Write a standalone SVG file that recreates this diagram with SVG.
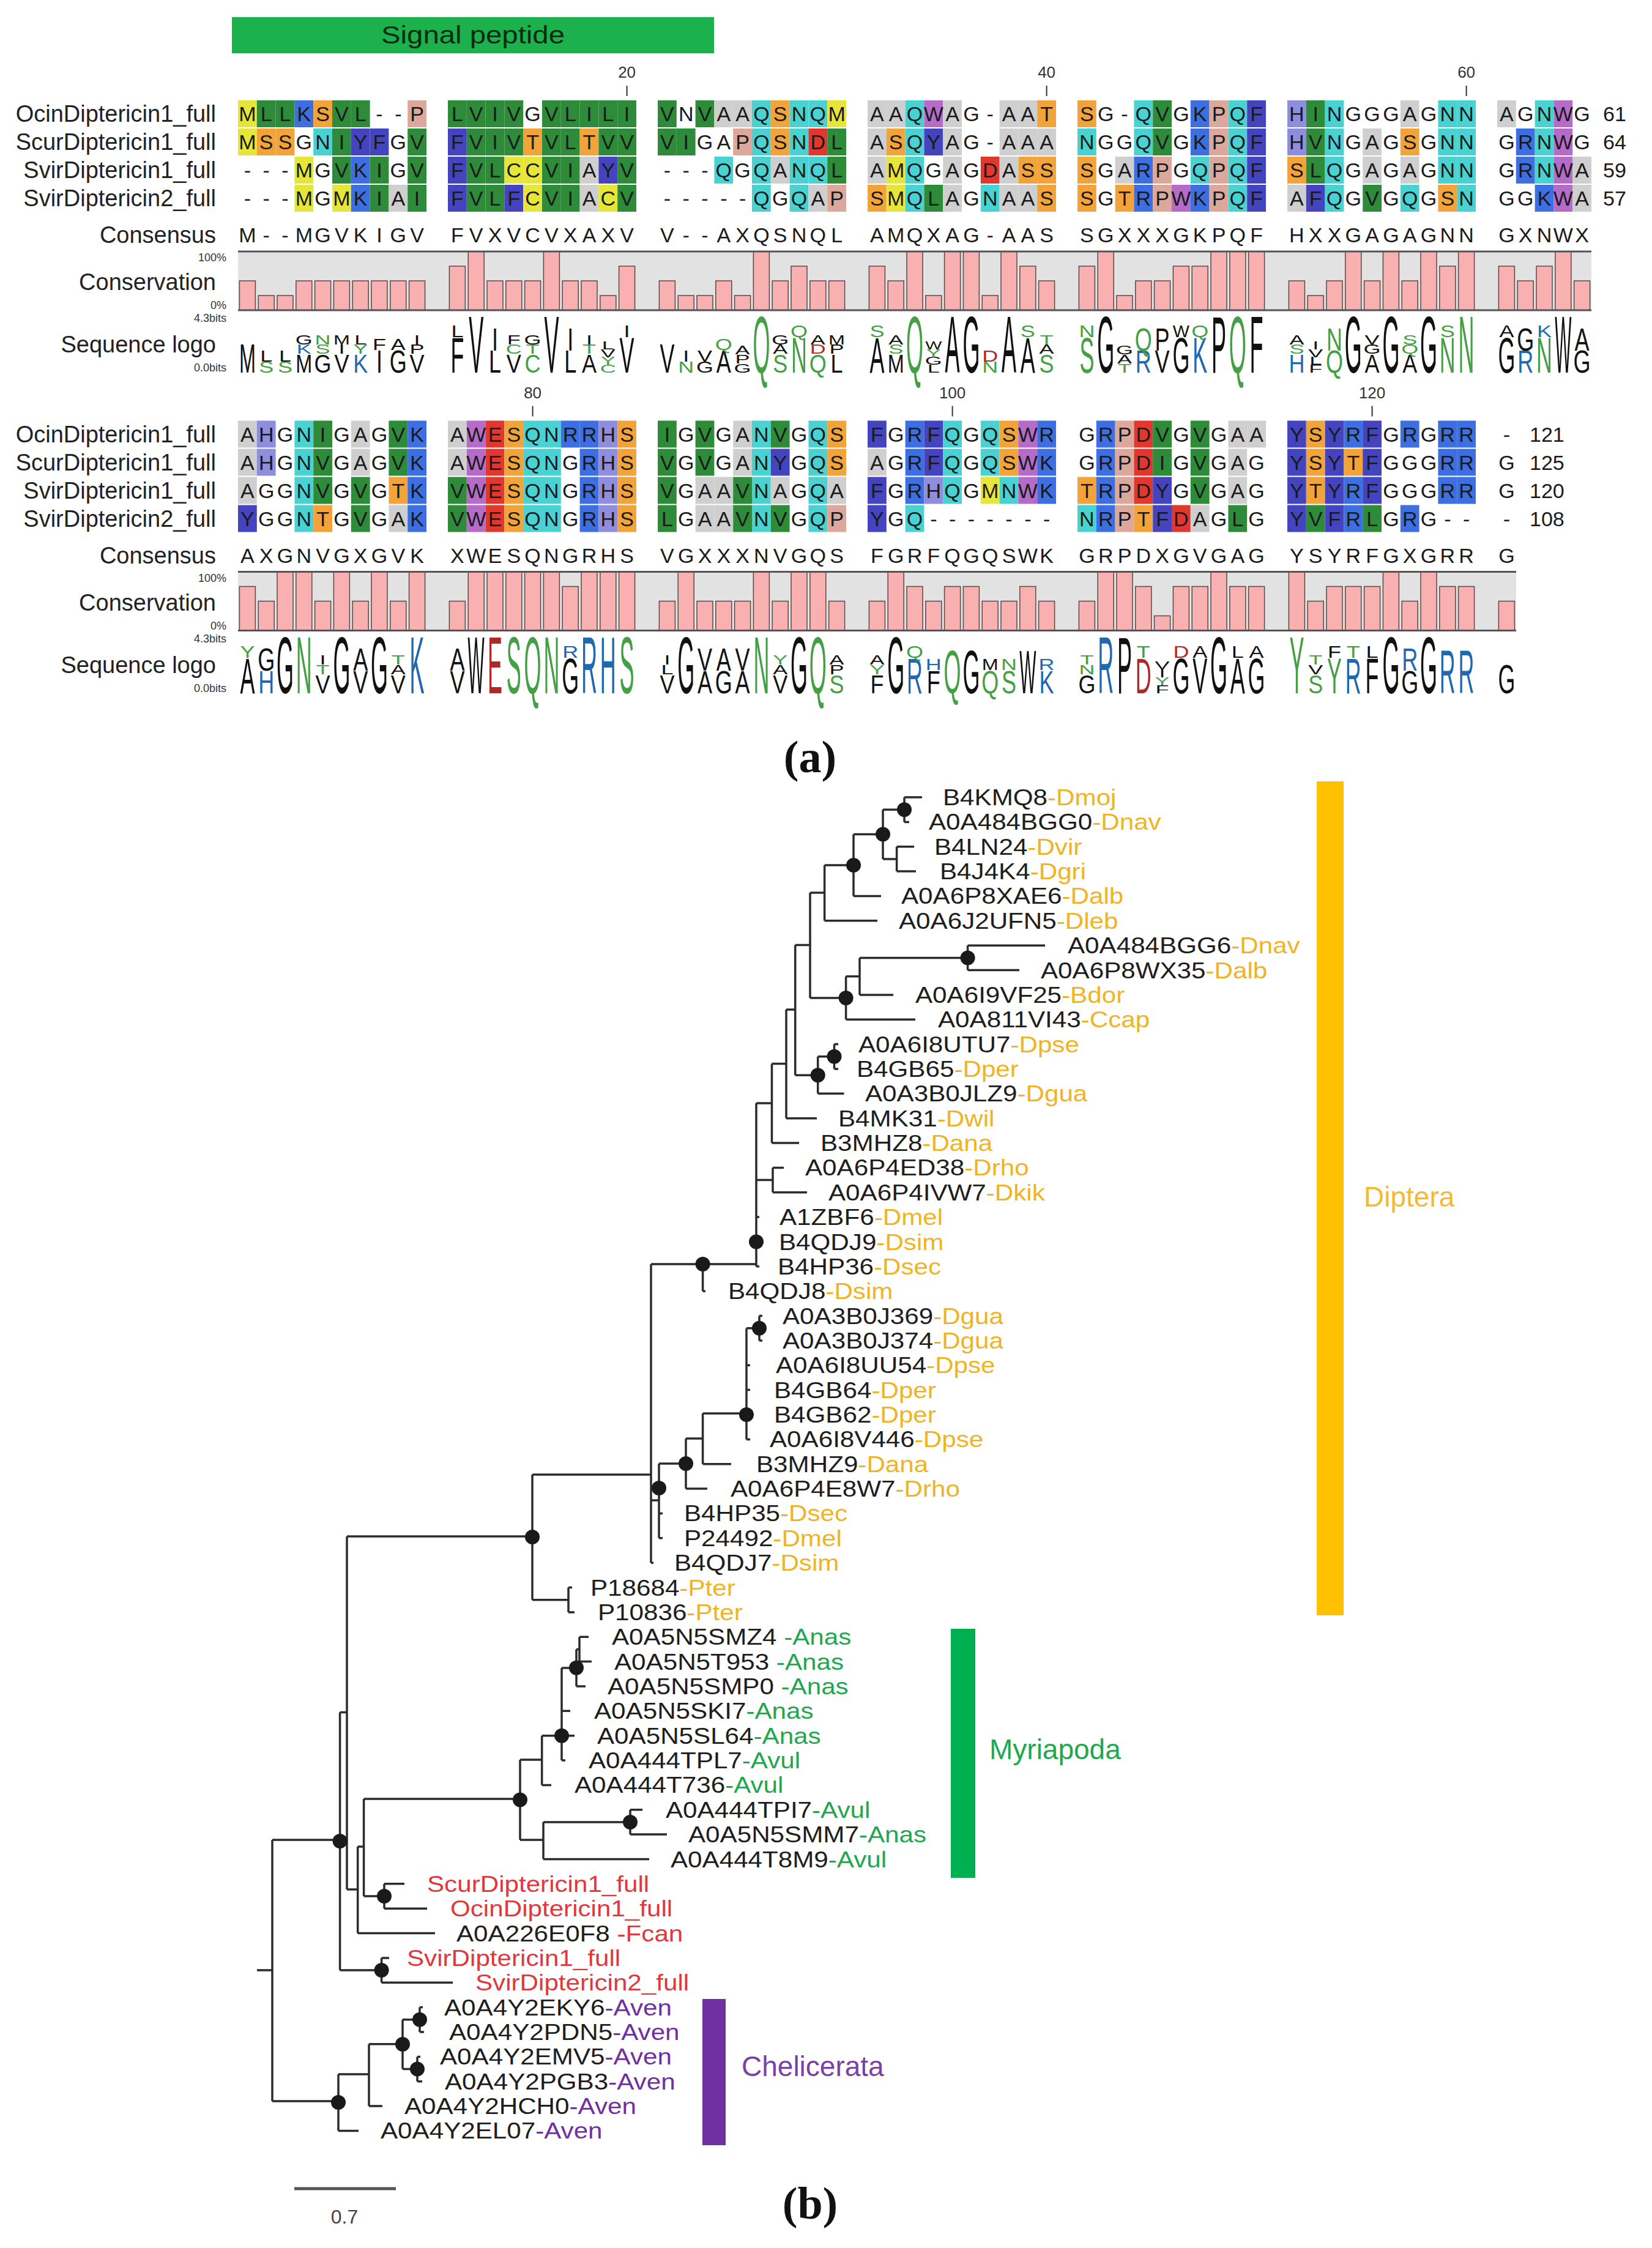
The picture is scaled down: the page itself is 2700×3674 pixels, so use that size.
<svg xmlns="http://www.w3.org/2000/svg" width="2700" height="3674" viewBox="0 0 2700 3674">
<style>
text{font-family:"Liberation Sans",Arial,sans-serif}
.nm{font-size:38px;fill:#222;text-anchor:end}
.rs{font-size:34px;fill:#1a1a1a;text-anchor:middle}
.sm{font-size:18px;fill:#333;text-anchor:end}
.ps{font-size:26px;fill:#333;text-anchor:middle}
.en{font-size:34px;fill:#1a1a1a}
.cl rect{width:30.8px;height:44px}
rect.g{fill:#2e8b3a}rect.y{fill:#e6e63a}rect.b{fill:#3d6fe0}rect.i{fill:#4444be}rect.o{fill:#f2a43a}rect.c{fill:#4ad2d2}rect.p{fill:#dca89c}rect.a{fill:#cfcfcf}rect.r{fill:#e0382f}rect.h{fill:#8e8edc}rect.w{fill:#b46cc8}
.bar rect{width:26px;fill:#f8b0b0;stroke:#5a4a4a;stroke-width:1.5}
.q4{y:411px;height:96px}.q3{y:435px;height:72px}.q2{y:459px;height:48px}.q1{y:483px;height:24px}
.lg text{font-size:36px;fill:#111;text-anchor:middle}
.lg .n{fill:#45a045}.lg .k{fill:#2069b0}.lg .e{fill:#b02828}
.tr{fill:none;stroke:#2b2b2b;stroke-width:3.5}
.dot{fill:#1a1a1a}
.lf{font-size:37px;fill:#1e1e1e}
.o{fill:#f0b323}.gn{fill:#1fa84f}.rd{fill:#e0383c}.pu{fill:#7030a0}
.pl{font-family:"Liberation Serif","Times New Roman",serif;font-weight:bold;font-size:74px;fill:#111;text-anchor:middle}
</style>
<rect width="2700" height="3674" fill="#fff"/>
<g id="panel-a">
<g id="signal-peptide"><rect x="379" y="28" width="788" height="59" fill="#1cb14c"/><text x="773" y="71" font-size="40" fill="#0d2b12" text-anchor="middle" textLength="300" lengthAdjust="spacingAndGlyphs">Signal peptide</text></g>
<g id="section1">
<g id="labels1">
<text class="nm" x="353" y="199">OcinDiptericin1_full</text><text class="nm" x="353" y="245">ScurDiptericin1_full</text><text class="nm" x="353" y="291">SvirDiptericin1_full</text><text class="nm" x="353" y="337">SvirDiptericin2_full</text><text class="nm" x="353" y="397">Consensus</text><text class="nm" x="353" y="474">Conservation</text><text class="nm" x="353" y="576">Sequence logo</text>
<text class="sm" x="370" y="427">100%</text><text class="sm" x="370" y="505">0%</text><text class="sm" x="370" y="526">4.3bits</text><text class="sm" x="370" y="607">0.0bits</text>
</g>
<g id="ruler1"><text class="ps" x="1024.6" y="127">20</text><text class="ps" x="1710.6" y="127">40</text><text class="ps" x="2396.6" y="127">60</text><path d="M1024.6 140V157M1710.6 140V157M2396.6 140V157" stroke="#333" stroke-width="2"/></g>
<rect x="389" y="411" width="2212" height="96" fill="#e2e2e2"/>
<g id="s1b1" transform="translate(389,0)">
<g class="cl"><rect class="y" y="164"/><rect class="g" x="30.8" y="164"/><rect class="g" x="61.6" y="164"/><rect class="b" x="92.4" y="164"/><rect class="o" x="123.2" y="164"/><rect class="g" x="154" y="164"/><rect class="g" x="184.8" y="164"/><rect class="p" x="277.2" y="164"/>
<rect class="y" y="210"/><rect class="o" x="30.8" y="210"/><rect class="o" x="61.6" y="210"/><rect class="c" x="123.2" y="210"/><rect class="g" x="154" y="210"/><rect class="i" x="184.8" y="210"/><rect class="i" x="215.6" y="210"/><rect class="g" x="277.2" y="210"/>
<rect class="y" x="92.4" y="256"/><rect class="g" x="154" y="256"/><rect class="b" x="184.8" y="256"/><rect class="g" x="215.6" y="256"/><rect class="g" x="277.2" y="256"/>
<rect class="y" x="92.4" y="302"/><rect class="y" x="154" y="302"/><rect class="b" x="184.8" y="302"/><rect class="g" x="215.6" y="302"/><rect class="a" x="246.4" y="302"/><rect class="g" x="277.2" y="302"/></g>
<text class="rs" x="15.4 46.2 77 107.8 138.6 169.4 200.2 231 261.8 292.6" y="198">MLLKSVL--P</text><text class="rs" x="15.4 46.2 77 107.8 138.6 169.4 200.2 231 261.8 292.6" y="244">MSSGNIYFGV</text><text class="rs" x="15.4 46.2 77 107.8 138.6 169.4 200.2 231 261.8 292.6" y="290">---MGVKIGV</text><text class="rs" x="15.4 46.2 77 107.8 138.6 169.4 200.2 231 261.8 292.6" y="336">---MGMKIAI</text><text class="rs" x="15.4 46.2 77 107.8 138.6 169.4 200.2 231 261.8 292.6" y="396">M--MGVKIGV</text>
<g class="bar"><rect class="q2" x="2.4"/><rect class="q1" x="33.2"/><rect class="q1" x="64"/><rect class="q2" x="94.8"/><rect class="q2" x="125.6"/><rect class="q2" x="156.4"/><rect class="q2" x="187.2"/><rect class="q2" x="218"/><rect class="q2" x="248.8"/><rect class="q2" x="279.6"/></g>
<g class="lg"><text transform="matrix(.9 0 0 1.841 15.4 609)">M</text><text class="n" transform="matrix(1 0 0 .707 46.2 609)">S</text><text transform="matrix(1 0 0 .707 46.2 590.75)">L</text><text class="n" transform="matrix(1 0 0 .707 77 609)">S</text><text transform="matrix(1 0 0 .707 77 590.75)">L</text><text transform="matrix(.9 0 0 1.202 107.8 609)">M</text><text class="k" transform="matrix(1 0 0 .601 107.8 578)">K</text><text transform="matrix(1 0 0 .601 107.8 562.5)">G</text><text transform="matrix(1 0 0 1.202 138.6 609)">G</text><text class="n" transform="matrix(1 0 0 .601 138.6 578)">S</text><text class="n" transform="matrix(1 0 0 .601 138.6 562.5)">N</text><text transform="matrix(1 0 0 1.202 169.4 609)">V</text><text transform="matrix(1 0 0 .601 169.4 578)">I</text><text transform="matrix(.9 0 0 .601 169.4 562.5)">M</text><text class="k" transform="matrix(1 0 0 1.202 200.2 609)">K</text><text class="n" transform="matrix(1 0 0 .601 200.2 578)">Y</text><text transform="matrix(1 0 0 .601 200.2 562.5)">L</text><text transform="matrix(1 0 0 1.45 231 609)">I</text><text transform="matrix(1 0 0 .725 231 571.6)">F</text><text transform="matrix(1 0 0 1.45 261.8 609)">G</text><text transform="matrix(1 0 0 .725 261.8 571.6)">A</text><text transform="matrix(1 0 0 1.202 292.6 609)">V</text><text transform="matrix(1 0 0 .601 292.6 578)">P</text><text transform="matrix(1 0 0 .601 292.6 562.5)">I</text></g>
</g>
<g id="s1b2" transform="translate(732,0)">
<g class="cl"><rect class="g" y="164"/><rect class="g" x="30.8" y="164"/><rect class="g" x="61.6" y="164"/><rect class="g" x="92.4" y="164"/><rect class="g" x="154" y="164"/><rect class="g" x="184.8" y="164"/><rect class="g" x="215.6" y="164"/><rect class="g" x="246.4" y="164"/><rect class="g" x="277.2" y="164"/>
<rect class="i" y="210"/><rect class="g" x="30.8" y="210"/><rect class="g" x="61.6" y="210"/><rect class="g" x="92.4" y="210"/><rect class="o" x="123.2" y="210"/><rect class="g" x="154" y="210"/><rect class="g" x="184.8" y="210"/><rect class="o" x="215.6" y="210"/><rect class="g" x="246.4" y="210"/><rect class="g" x="277.2" y="210"/>
<rect class="i" y="256"/><rect class="g" x="30.8" y="256"/><rect class="g" x="61.6" y="256"/><rect class="y" x="92.4" y="256"/><rect class="y" x="123.2" y="256"/><rect class="g" x="154" y="256"/><rect class="g" x="184.8" y="256"/><rect class="a" x="215.6" y="256"/><rect class="i" x="246.4" y="256"/><rect class="g" x="277.2" y="256"/>
<rect class="i" y="302"/><rect class="g" x="30.8" y="302"/><rect class="g" x="61.6" y="302"/><rect class="i" x="92.4" y="302"/><rect class="y" x="123.2" y="302"/><rect class="g" x="154" y="302"/><rect class="g" x="184.8" y="302"/><rect class="a" x="215.6" y="302"/><rect class="y" x="246.4" y="302"/><rect class="g" x="277.2" y="302"/></g>
<text class="rs" x="15.4 46.2 77 107.8 138.6 169.4 200.2 231 261.8 292.6" y="198">LVIVGVLILI</text><text class="rs" x="15.4 46.2 77 107.8 138.6 169.4 200.2 231 261.8 292.6" y="244">FVIVTVLTVV</text><text class="rs" x="15.4 46.2 77 107.8 138.6 169.4 200.2 231 261.8 292.6" y="290">FVLCCVIAYV</text><text class="rs" x="15.4 46.2 77 107.8 138.6 169.4 200.2 231 261.8 292.6" y="336">FVLFCVIACV</text><text class="rs" x="15.4 46.2 77 107.8 138.6 169.4 200.2 231 261.8 292.6" y="396">FVXVCVXAXV</text>
<g class="bar"><rect class="q3" x="2.4"/><rect class="q4" x="33.2"/><rect class="q2" x="64"/><rect class="q2" x="94.8"/><rect class="q2" x="125.6"/><rect class="q4" x="156.4"/><rect class="q2" x="187.2"/><rect class="q2" x="218"/><rect class="q1" x="248.8"/><rect class="q3" x="279.6"/></g>
<g class="lg"><text transform="matrix(1 0 0 2.244 15.4 609)">F</text><text transform="matrix(1 0 0 .748 15.4 551.1)">L</text><text transform="matrix(1 0 0 3.682 46.2 609)">V</text><text transform="matrix(1 0 0 1.415 77 609)">L</text><text transform="matrix(1 0 0 1.415 77 572.5)">I</text><text transform="matrix(1 0 0 1.202 107.8 609)">V</text><text class="n" transform="matrix(1 0 0 .601 107.8 578)">C</text><text transform="matrix(1 0 0 .601 107.8 562.5)">F</text><text class="n" transform="matrix(1 0 0 1.202 138.6 609)">C</text><text class="n" transform="matrix(1 0 0 .601 138.6 578)">T</text><text transform="matrix(1 0 0 .601 138.6 562.5)">G</text><text transform="matrix(1 0 0 3.682 169.4 609)">V</text><text transform="matrix(1 0 0 1.415 200.2 609)">L</text><text transform="matrix(1 0 0 1.415 200.2 572.5)">I</text><text transform="matrix(1 0 0 1.202 231 609)">A</text><text class="n" transform="matrix(1 0 0 .601 231 578)">T</text><text transform="matrix(1 0 0 .601 231 562.5)">I</text><text class="n" transform="matrix(1 0 0 .494 261.8 609)">C</text><text class="n" transform="matrix(1 0 0 .494 261.8 596.25)">Y</text><text transform="matrix(1 0 0 .494 261.8 583.5)">V</text><text transform="matrix(1 0 0 .494 261.8 570.75)">L</text><text transform="matrix(1 0 0 2.244 292.6 609)">V</text><text transform="matrix(1 0 0 .748 292.6 551.1)">I</text></g>
</g>
<g id="s1b3" transform="translate(1075,0)">
<g class="cl"><rect class="g" y="164"/><rect class="g" x="61.6" y="164"/><rect class="a" x="92.4" y="164"/><rect class="a" x="123.2" y="164"/><rect class="c" x="154" y="164"/><rect class="o" x="184.8" y="164"/><rect class="c" x="215.6" y="164"/><rect class="c" x="246.4" y="164"/><rect class="y" x="277.2" y="164"/>
<rect class="g" y="210"/><rect class="g" x="30.8" y="210"/><rect class="p" x="123.2" y="210"/><rect class="c" x="154" y="210"/><rect class="o" x="184.8" y="210"/><rect class="c" x="215.6" y="210"/><rect class="r" x="246.4" y="210"/><rect class="g" x="277.2" y="210"/>
<rect class="c" x="92.4" y="256"/><rect class="c" x="154" y="256"/><rect class="a" x="184.8" y="256"/><rect class="c" x="215.6" y="256"/><rect class="c" x="246.4" y="256"/><rect class="g" x="277.2" y="256"/>
<rect class="c" x="154" y="302"/><rect class="c" x="215.6" y="302"/><rect class="a" x="246.4" y="302"/><rect class="p" x="277.2" y="302"/></g>
<text class="rs" x="15.4 46.2 77 107.8 138.6 169.4 200.2 231 261.8 292.6" y="198">VNVAAQSNQM</text><text class="rs" x="15.4 46.2 77 107.8 138.6 169.4 200.2 231 261.8 292.6" y="244">VIGAPQSNDL</text><text class="rs" x="15.4 46.2 77 107.8 138.6 169.4 200.2 231 261.8 292.6" y="290">---QGQANQL</text><text class="rs" x="15.4 46.2 77 107.8 138.6 169.4 200.2 231 261.8 292.6" y="336">-----QGQAP</text><text class="rs" x="15.4 46.2 77 107.8 138.6 169.4 200.2 231 261.8 292.6" y="396">V--AXQSNQL</text>
<g class="bar"><rect class="q2" x="2.4"/><rect class="q1" x="33.2"/><rect class="q1" x="64"/><rect class="q2" x="94.8"/><rect class="q1" x="125.6"/><rect class="q4" x="156.4"/><rect class="q2" x="187.2"/><rect class="q3" x="218"/><rect class="q2" x="248.8"/><rect class="q2" x="279.6"/></g>
<g class="lg"><text transform="matrix(1 0 0 1.841 15.4 609)">V</text><text class="n" transform="matrix(1 0 0 .707 46.2 609)">N</text><text transform="matrix(1 0 0 .707 46.2 590.75)">I</text><text transform="matrix(1 0 0 .707 77 609)">G</text><text transform="matrix(1 0 0 .707 77 590.75)">V</text><text transform="matrix(1 0 0 1.45 107.8 609)">A</text><text class="n" transform="matrix(1 0 0 .725 107.8 571.6)">Q</text><text transform="matrix(1 0 0 .583 138.6 609)">G</text><text transform="matrix(1 0 0 .583 138.6 594)">P</text><text transform="matrix(1 0 0 .583 138.6 579)">A</text><text class="n" transform="matrix(1 0 0 3.682 169.4 609)">Q</text><text class="n" transform="matrix(1 0 0 1.202 200.2 609)">S</text><text transform="matrix(1 0 0 .601 200.2 578)">A</text><text transform="matrix(1 0 0 .601 200.2 562.5)">G</text><text class="n" transform="matrix(1 0 0 2.244 231 609)">N</text><text class="n" transform="matrix(1 0 0 .748 231 551.1)">Q</text><text class="n" transform="matrix(1 0 0 1.202 261.8 609)">Q</text><text class="e" transform="matrix(1 0 0 .601 261.8 578)">D</text><text transform="matrix(1 0 0 .601 261.8 562.5)">A</text><text transform="matrix(1 0 0 1.202 292.6 609)">L</text><text transform="matrix(1 0 0 .601 292.6 578)">P</text><text transform="matrix(.9 0 0 .601 292.6 562.5)">M</text></g>
</g>
<g id="s1b4" transform="translate(1418,0)">
<g class="cl"><rect class="a" y="164"/><rect class="a" x="30.8" y="164"/><rect class="c" x="61.6" y="164"/><rect class="w" x="92.4" y="164"/><rect class="a" x="123.2" y="164"/><rect class="a" x="215.6" y="164"/><rect class="a" x="246.4" y="164"/><rect class="o" x="277.2" y="164"/>
<rect class="a" y="210"/><rect class="o" x="30.8" y="210"/><rect class="c" x="61.6" y="210"/><rect class="i" x="92.4" y="210"/><rect class="a" x="123.2" y="210"/><rect class="a" x="215.6" y="210"/><rect class="a" x="246.4" y="210"/><rect class="a" x="277.2" y="210"/>
<rect class="a" y="256"/><rect class="y" x="30.8" y="256"/><rect class="c" x="61.6" y="256"/><rect class="a" x="123.2" y="256"/><rect class="r" x="184.8" y="256"/><rect class="a" x="215.6" y="256"/><rect class="o" x="246.4" y="256"/><rect class="o" x="277.2" y="256"/>
<rect class="o" y="302"/><rect class="y" x="30.8" y="302"/><rect class="c" x="61.6" y="302"/><rect class="g" x="92.4" y="302"/><rect class="a" x="123.2" y="302"/><rect class="c" x="184.8" y="302"/><rect class="a" x="215.6" y="302"/><rect class="a" x="246.4" y="302"/><rect class="o" x="277.2" y="302"/></g>
<text class="rs" x="15.4 46.2 77 107.8 138.6 169.4 200.2 231 261.8 292.6" y="198">AAQWAG-AAT</text><text class="rs" x="15.4 46.2 77 107.8 138.6 169.4 200.2 231 261.8 292.6" y="244">ASQYAG-AAA</text><text class="rs" x="15.4 46.2 77 107.8 138.6 169.4 200.2 231 261.8 292.6" y="290">AMQGAGDASS</text><text class="rs" x="15.4 46.2 77 107.8 138.6 169.4 200.2 231 261.8 292.6" y="336">SMQLAGNAAS</text><text class="rs" x="15.4 46.2 77 107.8 138.6 169.4 200.2 231 261.8 292.6" y="396">AMQXAG-AAS</text>
<g class="bar"><rect class="q3" x="2.4"/><rect class="q2" x="33.2"/><rect class="q4" x="64"/><rect class="q1" x="94.8"/><rect class="q4" x="125.6"/><rect class="q4" x="156.4"/><rect class="q1" x="187.2"/><rect class="q4" x="218"/><rect class="q3" x="248.8"/><rect class="q2" x="279.6"/></g>
<g class="lg"><text transform="matrix(1 0 0 2.244 15.4 609)">A</text><text class="n" transform="matrix(1 0 0 .748 15.4 551.1)">S</text><text transform="matrix(.9 0 0 1.202 46.2 609)">M</text><text class="n" transform="matrix(1 0 0 .601 46.2 578)">S</text><text transform="matrix(1 0 0 .601 46.2 562.5)">A</text><text class="n" transform="matrix(1 0 0 3.682 77 609)">Q</text><text transform="matrix(1 0 0 .494 107.8 609)">L</text><text transform="matrix(1 0 0 .494 107.8 596.25)">G</text><text class="n" transform="matrix(1 0 0 .494 107.8 583.5)">Y</text><text transform="matrix(.8 0 0 .494 107.8 570.75)">W</text><text transform="matrix(1 0 0 3.682 138.6 609)">A</text><text transform="matrix(1 0 0 3.682 169.4 609)">G</text><text class="n" transform="matrix(1 0 0 .707 200.2 609)">N</text><text class="e" transform="matrix(1 0 0 .707 200.2 590.75)">D</text><text transform="matrix(1 0 0 3.682 231 609)">A</text><text transform="matrix(1 0 0 2.244 261.8 609)">A</text><text class="n" transform="matrix(1 0 0 .748 261.8 551.1)">S</text><text class="n" transform="matrix(1 0 0 1.202 292.6 609)">S</text><text transform="matrix(1 0 0 .601 292.6 578)">A</text><text class="n" transform="matrix(1 0 0 .601 292.6 562.5)">T</text></g>
</g>
<g id="s1b5" transform="translate(1761,0)">
<g class="cl"><rect class="o" y="164"/><rect class="c" x="92.4" y="164"/><rect class="g" x="123.2" y="164"/><rect class="b" x="184.8" y="164"/><rect class="p" x="215.6" y="164"/><rect class="c" x="246.4" y="164"/><rect class="i" x="277.2" y="164"/>
<rect class="c" y="210"/><rect class="c" x="92.4" y="210"/><rect class="g" x="123.2" y="210"/><rect class="b" x="184.8" y="210"/><rect class="p" x="215.6" y="210"/><rect class="c" x="246.4" y="210"/><rect class="i" x="277.2" y="210"/>
<rect class="o" y="256"/><rect class="a" x="61.6" y="256"/><rect class="b" x="92.4" y="256"/><rect class="p" x="123.2" y="256"/><rect class="c" x="184.8" y="256"/><rect class="p" x="215.6" y="256"/><rect class="c" x="246.4" y="256"/><rect class="i" x="277.2" y="256"/>
<rect class="o" y="302"/><rect class="o" x="61.6" y="302"/><rect class="b" x="92.4" y="302"/><rect class="p" x="123.2" y="302"/><rect class="w" x="154" y="302"/><rect class="b" x="184.8" y="302"/><rect class="p" x="215.6" y="302"/><rect class="c" x="246.4" y="302"/><rect class="i" x="277.2" y="302"/></g>
<text class="rs" x="15.4 46.2 77 107.8 138.6 169.4 200.2 231 261.8 292.6" y="198">SG-QVGKPQF</text><text class="rs" x="15.4 46.2 77 107.8 138.6 169.4 200.2 231 261.8 292.6" y="244">NGGQVGKPQF</text><text class="rs" x="15.4 46.2 77 107.8 138.6 169.4 200.2 231 261.8 292.6" y="290">SGARPGQPQF</text><text class="rs" x="15.4 46.2 77 107.8 138.6 169.4 200.2 231 261.8 292.6" y="336">SGTRPWKPQF</text><text class="rs" x="15.4 46.2 77 107.8 138.6 169.4 200.2 231 261.8 292.6" y="396">SGXXXGKPQF</text>
<g class="bar"><rect class="q3" x="2.4"/><rect class="q4" x="33.2"/><rect class="q1" x="64"/><rect class="q2" x="94.8"/><rect class="q2" x="125.6"/><rect class="q3" x="156.4"/><rect class="q3" x="187.2"/><rect class="q4" x="218"/><rect class="q4" x="248.8"/><rect class="q4" x="279.6"/></g>
<g class="lg"><text class="n" transform="matrix(1 0 0 2.244 15.4 609)">S</text><text class="n" transform="matrix(1 0 0 .748 15.4 551.1)">N</text><text transform="matrix(1 0 0 3.682 46.2 609)">G</text><text class="n" transform="matrix(1 0 0 .583 77 609)">T</text><text transform="matrix(1 0 0 .583 77 594)">A</text><text transform="matrix(1 0 0 .583 77 579)">G</text><text class="k" transform="matrix(1 0 0 1.415 107.8 609)">R</text><text class="n" transform="matrix(1 0 0 1.415 107.8 572.5)">Q</text><text transform="matrix(1 0 0 1.415 138.6 609)">V</text><text transform="matrix(1 0 0 1.415 138.6 572.5)">P</text><text transform="matrix(1 0 0 2.244 169.4 609)">G</text><text transform="matrix(.8 0 0 .748 169.4 551.1)">W</text><text class="k" transform="matrix(1 0 0 2.244 200.2 609)">K</text><text class="n" transform="matrix(1 0 0 .748 200.2 551.1)">Q</text><text transform="matrix(1 0 0 3.682 231 609)">P</text><text class="n" transform="matrix(1 0 0 3.682 261.8 609)">Q</text><text transform="matrix(1 0 0 3.682 292.6 609)">F</text></g>
</g>
<g id="s1b6" transform="translate(2104,0)">
<g class="cl"><rect class="h" y="164"/><rect class="g" x="30.8" y="164"/><rect class="c" x="61.6" y="164"/><rect class="a" x="184.8" y="164"/><rect class="c" x="246.4" y="164"/><rect class="c" x="277.2" y="164"/>
<rect class="h" y="210"/><rect class="g" x="30.8" y="210"/><rect class="c" x="61.6" y="210"/><rect class="a" x="123.2" y="210"/><rect class="o" x="184.8" y="210"/><rect class="c" x="246.4" y="210"/><rect class="c" x="277.2" y="210"/>
<rect class="o" y="256"/><rect class="g" x="30.8" y="256"/><rect class="c" x="61.6" y="256"/><rect class="a" x="123.2" y="256"/><rect class="a" x="184.8" y="256"/><rect class="c" x="246.4" y="256"/><rect class="c" x="277.2" y="256"/>
<rect class="a" y="302"/><rect class="i" x="30.8" y="302"/><rect class="c" x="61.6" y="302"/><rect class="g" x="123.2" y="302"/><rect class="c" x="184.8" y="302"/><rect class="o" x="246.4" y="302"/><rect class="c" x="277.2" y="302"/></g>
<text class="rs" x="15.4 46.2 77 107.8 138.6 169.4 200.2 231 261.8 292.6" y="198">HINGGGAGNN</text><text class="rs" x="15.4 46.2 77 107.8 138.6 169.4 200.2 231 261.8 292.6" y="244">HVNGAGSGNN</text><text class="rs" x="15.4 46.2 77 107.8 138.6 169.4 200.2 231 261.8 292.6" y="290">SLQGAGAGNN</text><text class="rs" x="15.4 46.2 77 107.8 138.6 169.4 200.2 231 261.8 292.6" y="336">AFQGVGQGSN</text><text class="rs" x="15.4 46.2 77 107.8 138.6 169.4 200.2 231 261.8 292.6" y="396">HXXGAGAGNN</text>
<g class="bar"><rect class="q2" x="2.4"/><rect class="q1" x="33.2"/><rect class="q2" x="64"/><rect class="q4" x="94.8"/><rect class="q2" x="125.6"/><rect class="q4" x="156.4"/><rect class="q2" x="187.2"/><rect class="q4" x="218"/><rect class="q3" x="248.8"/><rect class="q4" x="279.6"/></g>
<g class="lg"><text class="k" transform="matrix(1 0 0 1.202 15.4 609)">H</text><text class="n" transform="matrix(1 0 0 .601 15.4 578)">S</text><text transform="matrix(1 0 0 .601 15.4 562.5)">A</text><text transform="matrix(1 0 0 .494 46.2 609)">F</text><text transform="matrix(1 0 0 .494 46.2 596.25)">L</text><text transform="matrix(1 0 0 .494 46.2 583.5)">V</text><text transform="matrix(1 0 0 .494 46.2 570.75)">I</text><text class="n" transform="matrix(1 0 0 1.415 77 609)">Q</text><text class="n" transform="matrix(1 0 0 1.415 77 572.5)">N</text><text transform="matrix(1 0 0 3.682 107.8 609)">G</text><text transform="matrix(1 0 0 1.202 138.6 609)">A</text><text transform="matrix(1 0 0 .601 138.6 578)">G</text><text transform="matrix(1 0 0 .601 138.6 562.5)">V</text><text transform="matrix(1 0 0 3.682 169.4 609)">G</text><text transform="matrix(1 0 0 1.202 200.2 609)">A</text><text class="n" transform="matrix(1 0 0 .601 200.2 578)">Q</text><text class="n" transform="matrix(1 0 0 .601 200.2 562.5)">S</text><text transform="matrix(1 0 0 3.682 231 609)">G</text><text class="n" transform="matrix(1 0 0 2.244 261.8 609)">N</text><text class="n" transform="matrix(1 0 0 .748 261.8 551.1)">S</text><text class="n" transform="matrix(1 0 0 3.682 292.6 609)">N</text></g>
</g>
<g id="s1b7" transform="translate(2447,0)">
<g class="cl"><rect class="a" y="164"/><rect class="c" x="61.6" y="164"/><rect class="w" x="92.4" y="164"/>
<rect class="b" x="30.8" y="210"/><rect class="c" x="61.6" y="210"/><rect class="w" x="92.4" y="210"/>
<rect class="b" x="30.8" y="256"/><rect class="c" x="61.6" y="256"/><rect class="w" x="92.4" y="256"/><rect class="a" x="123.2" y="256"/>
<rect class="b" x="61.6" y="302"/><rect class="w" x="92.4" y="302"/><rect class="a" x="123.2" y="302"/></g>
<text class="rs" x="15.4 46.2 77 107.8 138.6" y="198">AGNWG</text><text class="rs" x="15.4 46.2 77 107.8 138.6" y="244">GRNWG</text><text class="rs" x="15.4 46.2 77 107.8 138.6" y="290">GRNWA</text><text class="rs" x="15.4 46.2 77 107.8 138.6" y="336">GGKWA</text><text class="rs" x="15.4 46.2 77 107.8 138.6" y="396">GXNWX</text>
<g class="bar"><rect class="q3" x="2.4"/><rect class="q2" x="33.2"/><rect class="q3" x="64"/><rect class="q4" x="94.8"/><rect class="q2" x="125.6"/></g>
<g class="lg"><text transform="matrix(1 0 0 2.244 15.4 609)">G</text><text transform="matrix(1 0 0 .748 15.4 551.1)">A</text><text class="k" transform="matrix(1 0 0 1.415 46.2 609)">R</text><text transform="matrix(1 0 0 1.415 46.2 572.5)">G</text><text class="n" transform="matrix(1 0 0 2.244 77 609)">N</text><text class="k" transform="matrix(1 0 0 .748 77 551.1)">K</text><text transform="matrix(.8 0 0 3.682 107.8 609)">W</text><text transform="matrix(1 0 0 1.415 138.6 609)">G</text><text transform="matrix(1 0 0 1.415 138.6 572.5)">A</text></g>
<text class="en" x="173" y="198">61</text><text class="en" x="173" y="244">64</text><text class="en" x="173" y="290">59</text><text class="en" x="173" y="336">57</text>
</g>
<path d="M389 411H2601M389 507H2601" stroke="#555" stroke-width="3"/>
</g>
<g id="section2" transform="translate(0,523.5)">
<g id="labels2">
<text class="nm" x="353" y="199">OcinDiptericin1_full</text><text class="nm" x="353" y="245">ScurDiptericin1_full</text><text class="nm" x="353" y="291">SvirDiptericin1_full</text><text class="nm" x="353" y="337">SvirDiptericin2_full</text><text class="nm" x="353" y="397">Consensus</text><text class="nm" x="353" y="474">Conservation</text><text class="nm" x="353" y="576">Sequence logo</text>
<text class="sm" x="370" y="427">100%</text><text class="sm" x="370" y="505">0%</text><text class="sm" x="370" y="526">4.3bits</text><text class="sm" x="370" y="607">0.0bits</text>
</g>
<g id="ruler2"><text class="ps" x="870.6" y="127">80</text><text class="ps" x="1556.6" y="127">100</text><text class="ps" x="2242.6" y="127">120</text><path d="M870.6 140V157M1556.6 140V157M2242.6 140V157" stroke="#333" stroke-width="2"/></g>
<rect x="389" y="411" width="2089" height="96" fill="#e2e2e2"/>
<g id="s2b1" transform="translate(389,0)">
<g class="cl"><rect class="a" y="164"/><rect class="h" x="30.8" y="164"/><rect class="c" x="92.4" y="164"/><rect class="g" x="123.2" y="164"/><rect class="a" x="184.8" y="164"/><rect class="g" x="246.4" y="164"/><rect class="b" x="277.2" y="164"/>
<rect class="a" y="210"/><rect class="h" x="30.8" y="210"/><rect class="c" x="92.4" y="210"/><rect class="g" x="123.2" y="210"/><rect class="a" x="184.8" y="210"/><rect class="g" x="246.4" y="210"/><rect class="b" x="277.2" y="210"/>
<rect class="a" y="256"/><rect class="c" x="92.4" y="256"/><rect class="g" x="123.2" y="256"/><rect class="g" x="184.8" y="256"/><rect class="o" x="246.4" y="256"/><rect class="b" x="277.2" y="256"/>
<rect class="i" y="302"/><rect class="c" x="92.4" y="302"/><rect class="o" x="123.2" y="302"/><rect class="g" x="184.8" y="302"/><rect class="a" x="246.4" y="302"/><rect class="b" x="277.2" y="302"/></g>
<text class="rs" x="15.4 46.2 77 107.8 138.6 169.4 200.2 231 261.8 292.6" y="198">AHGNIGAGVK</text><text class="rs" x="15.4 46.2 77 107.8 138.6 169.4 200.2 231 261.8 292.6" y="244">AHGNVGAGVK</text><text class="rs" x="15.4 46.2 77 107.8 138.6 169.4 200.2 231 261.8 292.6" y="290">AGGNVGVGTK</text><text class="rs" x="15.4 46.2 77 107.8 138.6 169.4 200.2 231 261.8 292.6" y="336">YGGNTGVGAK</text><text class="rs" x="15.4 46.2 77 107.8 138.6 169.4 200.2 231 261.8 292.6" y="396">AXGNVGXGVK</text>
<g class="bar"><rect class="q3" x="2.4"/><rect class="q2" x="33.2"/><rect class="q4" x="64"/><rect class="q4" x="94.8"/><rect class="q2" x="125.6"/><rect class="q4" x="156.4"/><rect class="q2" x="187.2"/><rect class="q4" x="218"/><rect class="q2" x="248.8"/><rect class="q4" x="279.6"/></g>
<g class="lg"><text transform="matrix(1 0 0 2.244 15.4 609)">A</text><text class="n" transform="matrix(1 0 0 .748 15.4 551.1)">Y</text><text class="k" transform="matrix(1 0 0 1.415 46.2 609)">H</text><text transform="matrix(1 0 0 1.415 46.2 572.5)">G</text><text transform="matrix(1 0 0 3.682 77 609)">G</text><text class="n" transform="matrix(1 0 0 3.682 107.8 609)">N</text><text transform="matrix(1 0 0 1.202 138.6 609)">V</text><text class="n" transform="matrix(1 0 0 .601 138.6 578)">T</text><text transform="matrix(1 0 0 .601 138.6 562.5)">I</text><text transform="matrix(1 0 0 3.682 169.4 609)">G</text><text transform="matrix(1 0 0 1.415 200.2 609)">V</text><text transform="matrix(1 0 0 1.415 200.2 572.5)">A</text><text transform="matrix(1 0 0 3.682 231 609)">G</text><text transform="matrix(1 0 0 1.202 261.8 609)">V</text><text transform="matrix(1 0 0 .601 261.8 578)">A</text><text class="n" transform="matrix(1 0 0 .601 261.8 562.5)">T</text><text class="k" transform="matrix(1 0 0 3.682 292.6 609)">K</text></g>
</g>
<g id="s2b2" transform="translate(732,0)">
<g class="cl"><rect class="a" y="164"/><rect class="w" x="30.8" y="164"/><rect class="r" x="61.6" y="164"/><rect class="o" x="92.4" y="164"/><rect class="c" x="123.2" y="164"/><rect class="c" x="154" y="164"/><rect class="b" x="184.8" y="164"/><rect class="b" x="215.6" y="164"/><rect class="h" x="246.4" y="164"/><rect class="o" x="277.2" y="164"/>
<rect class="a" y="210"/><rect class="w" x="30.8" y="210"/><rect class="r" x="61.6" y="210"/><rect class="o" x="92.4" y="210"/><rect class="c" x="123.2" y="210"/><rect class="c" x="154" y="210"/><rect class="b" x="215.6" y="210"/><rect class="h" x="246.4" y="210"/><rect class="o" x="277.2" y="210"/>
<rect class="g" y="256"/><rect class="w" x="30.8" y="256"/><rect class="r" x="61.6" y="256"/><rect class="o" x="92.4" y="256"/><rect class="c" x="123.2" y="256"/><rect class="c" x="154" y="256"/><rect class="b" x="215.6" y="256"/><rect class="h" x="246.4" y="256"/><rect class="o" x="277.2" y="256"/>
<rect class="g" y="302"/><rect class="w" x="30.8" y="302"/><rect class="r" x="61.6" y="302"/><rect class="o" x="92.4" y="302"/><rect class="c" x="123.2" y="302"/><rect class="c" x="154" y="302"/><rect class="b" x="215.6" y="302"/><rect class="h" x="246.4" y="302"/><rect class="o" x="277.2" y="302"/></g>
<text class="rs" x="15.4 46.2 77 107.8 138.6 169.4 200.2 231 261.8 292.6" y="198">AWESQNRRHS</text><text class="rs" x="15.4 46.2 77 107.8 138.6 169.4 200.2 231 261.8 292.6" y="244">AWESQNGRHS</text><text class="rs" x="15.4 46.2 77 107.8 138.6 169.4 200.2 231 261.8 292.6" y="290">VWESQNGRHS</text><text class="rs" x="15.4 46.2 77 107.8 138.6 169.4 200.2 231 261.8 292.6" y="336">VWESQNGRHS</text><text class="rs" x="15.4 46.2 77 107.8 138.6 169.4 200.2 231 261.8 292.6" y="396">XWESQNGRHS</text>
<g class="bar"><rect class="q2" x="2.4"/><rect class="q4" x="33.2"/><rect class="q4" x="64"/><rect class="q4" x="94.8"/><rect class="q4" x="125.6"/><rect class="q4" x="156.4"/><rect class="q3" x="187.2"/><rect class="q4" x="218"/><rect class="q4" x="248.8"/><rect class="q4" x="279.6"/></g>
<g class="lg"><text transform="matrix(1 0 0 1.415 15.4 609)">V</text><text transform="matrix(1 0 0 1.415 15.4 572.5)">A</text><text transform="matrix(.8 0 0 3.682 46.2 609)">W</text><text class="e" transform="matrix(1 0 0 3.682 77 609)">E</text><text class="n" transform="matrix(1 0 0 3.682 107.8 609)">S</text><text class="n" transform="matrix(1 0 0 3.682 138.6 609)">Q</text><text class="n" transform="matrix(1 0 0 3.682 169.4 609)">N</text><text transform="matrix(1 0 0 2.244 200.2 609)">G</text><text class="k" transform="matrix(1 0 0 .748 200.2 551.1)">R</text><text class="k" transform="matrix(1 0 0 3.682 231 609)">R</text><text class="k" transform="matrix(1 0 0 3.682 261.8 609)">H</text><text class="n" transform="matrix(1 0 0 3.682 292.6 609)">S</text></g>
</g>
<g id="s2b3" transform="translate(1075,0)">
<g class="cl"><rect class="g" y="164"/><rect class="g" x="61.6" y="164"/><rect class="a" x="123.2" y="164"/><rect class="c" x="154" y="164"/><rect class="g" x="184.8" y="164"/><rect class="c" x="246.4" y="164"/><rect class="o" x="277.2" y="164"/>
<rect class="g" y="210"/><rect class="g" x="61.6" y="210"/><rect class="a" x="123.2" y="210"/><rect class="c" x="154" y="210"/><rect class="i" x="184.8" y="210"/><rect class="c" x="246.4" y="210"/><rect class="o" x="277.2" y="210"/>
<rect class="g" y="256"/><rect class="a" x="61.6" y="256"/><rect class="a" x="92.4" y="256"/><rect class="g" x="123.2" y="256"/><rect class="c" x="154" y="256"/><rect class="a" x="184.8" y="256"/><rect class="c" x="246.4" y="256"/><rect class="a" x="277.2" y="256"/>
<rect class="g" y="302"/><rect class="a" x="61.6" y="302"/><rect class="a" x="92.4" y="302"/><rect class="g" x="123.2" y="302"/><rect class="c" x="154" y="302"/><rect class="g" x="184.8" y="302"/><rect class="c" x="246.4" y="302"/><rect class="p" x="277.2" y="302"/></g>
<text class="rs" x="15.4 46.2 77 107.8 138.6 169.4 200.2 231 261.8 292.6" y="198">IGVGANVGQS</text><text class="rs" x="15.4 46.2 77 107.8 138.6 169.4 200.2 231 261.8 292.6" y="244">VGVGANYGQS</text><text class="rs" x="15.4 46.2 77 107.8 138.6 169.4 200.2 231 261.8 292.6" y="290">VGAAVNAGQA</text><text class="rs" x="15.4 46.2 77 107.8 138.6 169.4 200.2 231 261.8 292.6" y="336">LGAAVNVGQP</text><text class="rs" x="15.4 46.2 77 107.8 138.6 169.4 200.2 231 261.8 292.6" y="396">VGXXXNVGQS</text>
<g class="bar"><rect class="q2" x="2.4"/><rect class="q4" x="33.2"/><rect class="q2" x="64"/><rect class="q2" x="94.8"/><rect class="q2" x="125.6"/><rect class="q4" x="156.4"/><rect class="q2" x="187.2"/><rect class="q4" x="218"/><rect class="q4" x="248.8"/><rect class="q2" x="279.6"/></g>
<g class="lg"><text transform="matrix(1 0 0 1.202 15.4 609)">V</text><text transform="matrix(1 0 0 .601 15.4 578)">L</text><text transform="matrix(1 0 0 .601 15.4 562.5)">I</text><text transform="matrix(1 0 0 3.682 46.2 609)">G</text><text transform="matrix(1 0 0 1.415 77 609)">A</text><text transform="matrix(1 0 0 1.415 77 572.5)">V</text><text transform="matrix(1 0 0 1.415 107.8 609)">G</text><text transform="matrix(1 0 0 1.415 107.8 572.5)">A</text><text transform="matrix(1 0 0 1.415 138.6 609)">A</text><text transform="matrix(1 0 0 1.415 138.6 572.5)">V</text><text class="n" transform="matrix(1 0 0 3.682 169.4 609)">N</text><text transform="matrix(1 0 0 1.202 200.2 609)">V</text><text transform="matrix(1 0 0 .601 200.2 578)">A</text><text class="n" transform="matrix(1 0 0 .601 200.2 562.5)">Y</text><text transform="matrix(1 0 0 3.682 231 609)">G</text><text class="n" transform="matrix(1 0 0 3.682 261.8 609)">Q</text><text class="n" transform="matrix(1 0 0 1.202 292.6 609)">S</text><text transform="matrix(1 0 0 .601 292.6 578)">P</text><text transform="matrix(1 0 0 .601 292.6 562.5)">A</text></g>
</g>
<g id="s2b4" transform="translate(1418,0)">
<g class="cl"><rect class="i" y="164"/><rect class="b" x="61.6" y="164"/><rect class="i" x="92.4" y="164"/><rect class="c" x="123.2" y="164"/><rect class="c" x="184.8" y="164"/><rect class="o" x="215.6" y="164"/><rect class="w" x="246.4" y="164"/><rect class="b" x="277.2" y="164"/>
<rect class="a" y="210"/><rect class="b" x="61.6" y="210"/><rect class="i" x="92.4" y="210"/><rect class="c" x="123.2" y="210"/><rect class="c" x="184.8" y="210"/><rect class="o" x="215.6" y="210"/><rect class="w" x="246.4" y="210"/><rect class="b" x="277.2" y="210"/>
<rect class="i" y="256"/><rect class="b" x="61.6" y="256"/><rect class="h" x="92.4" y="256"/><rect class="c" x="123.2" y="256"/><rect class="y" x="184.8" y="256"/><rect class="c" x="215.6" y="256"/><rect class="w" x="246.4" y="256"/><rect class="b" x="277.2" y="256"/>
<rect class="i" y="302"/><rect class="c" x="61.6" y="302"/></g>
<text class="rs" x="15.4 46.2 77 107.8 138.6 169.4 200.2 231 261.8 292.6" y="198">FGRFQGQSWR</text><text class="rs" x="15.4 46.2 77 107.8 138.6 169.4 200.2 231 261.8 292.6" y="244">AGRFQGQSWK</text><text class="rs" x="15.4 46.2 77 107.8 138.6 169.4 200.2 231 261.8 292.6" y="290">FGRHQGMNWK</text><text class="rs" x="15.4 46.2 77 107.8 138.6 169.4 200.2 231 261.8 292.6" y="336">YGQ-------</text><text class="rs" x="15.4 46.2 77 107.8 138.6 169.4 200.2 231 261.8 292.6" y="396">FGRFQGQSWK</text>
<g class="bar"><rect class="q2" x="2.4"/><rect class="q4" x="33.2"/><rect class="q3" x="64"/><rect class="q2" x="94.8"/><rect class="q3" x="125.6"/><rect class="q3" x="156.4"/><rect class="q2" x="187.2"/><rect class="q2" x="218"/><rect class="q3" x="248.8"/><rect class="q2" x="279.6"/></g>
<g class="lg"><text transform="matrix(1 0 0 1.202 15.4 609)">F</text><text class="n" transform="matrix(1 0 0 .601 15.4 578)">Y</text><text transform="matrix(1 0 0 .601 15.4 562.5)">A</text><text transform="matrix(1 0 0 3.682 46.2 609)">G</text><text class="k" transform="matrix(1 0 0 2.244 77 609)">R</text><text class="n" transform="matrix(1 0 0 .748 77 551.1)">Q</text><text transform="matrix(1 0 0 1.45 107.8 609)">F</text><text class="k" transform="matrix(1 0 0 .725 107.8 571.6)">H</text><text class="n" transform="matrix(1 0 0 2.762 138.6 609)">Q</text><text transform="matrix(1 0 0 2.762 169.4 609)">G</text><text class="n" transform="matrix(1 0 0 1.45 200.2 609)">Q</text><text transform="matrix(.9 0 0 .725 200.2 571.6)">M</text><text class="n" transform="matrix(1 0 0 1.45 231 609)">S</text><text class="n" transform="matrix(1 0 0 .725 231 571.6)">N</text><text transform="matrix(.8 0 0 2.762 261.8 609)">W</text><text class="k" transform="matrix(1 0 0 1.45 292.6 609)">K</text><text class="k" transform="matrix(1 0 0 .725 292.6 571.6)">R</text></g>
</g>
<g id="s2b5" transform="translate(1761,0)">
<g class="cl"><rect class="b" x="30.8" y="164"/><rect class="p" x="61.6" y="164"/><rect class="r" x="92.4" y="164"/><rect class="g" x="123.2" y="164"/><rect class="g" x="184.8" y="164"/><rect class="a" x="246.4" y="164"/><rect class="a" x="277.2" y="164"/>
<rect class="b" x="30.8" y="210"/><rect class="p" x="61.6" y="210"/><rect class="r" x="92.4" y="210"/><rect class="g" x="123.2" y="210"/><rect class="g" x="184.8" y="210"/><rect class="a" x="246.4" y="210"/>
<rect class="o" y="256"/><rect class="b" x="30.8" y="256"/><rect class="p" x="61.6" y="256"/><rect class="r" x="92.4" y="256"/><rect class="i" x="123.2" y="256"/><rect class="g" x="184.8" y="256"/><rect class="a" x="246.4" y="256"/>
<rect class="c" y="302"/><rect class="b" x="30.8" y="302"/><rect class="p" x="61.6" y="302"/><rect class="o" x="92.4" y="302"/><rect class="i" x="123.2" y="302"/><rect class="r" x="154" y="302"/><rect class="a" x="184.8" y="302"/><rect class="g" x="246.4" y="302"/></g>
<text class="rs" x="15.4 46.2 77 107.8 138.6 169.4 200.2 231 261.8 292.6" y="198">GRPDVGVGAA</text><text class="rs" x="15.4 46.2 77 107.8 138.6 169.4 200.2 231 261.8 292.6" y="244">GRPDIGVGAG</text><text class="rs" x="15.4 46.2 77 107.8 138.6 169.4 200.2 231 261.8 292.6" y="290">TRPDYGVGAG</text><text class="rs" x="15.4 46.2 77 107.8 138.6 169.4 200.2 231 261.8 292.6" y="336">NRPTFDAGLG</text><text class="rs" x="15.4 46.2 77 107.8 138.6 169.4 200.2 231 261.8 292.6" y="396">GRPDXGVGAG</text>
<g class="bar"><rect class="q2" x="2.4"/><rect class="q4" x="33.2"/><rect class="q4" x="64"/><rect class="q3" x="94.8"/><rect class="q1" x="125.6"/><rect class="q3" x="156.4"/><rect class="q3" x="187.2"/><rect class="q4" x="218"/><rect class="q3" x="248.8"/><rect class="q3" x="279.6"/></g>
<g class="lg"><text transform="matrix(1 0 0 1.202 15.4 609)">G</text><text class="n" transform="matrix(1 0 0 .601 15.4 578)">N</text><text class="n" transform="matrix(1 0 0 .601 15.4 562.5)">T</text><text class="k" transform="matrix(1 0 0 3.682 46.2 609)">R</text><text transform="matrix(1 0 0 3.682 77 609)">P</text><text class="e" transform="matrix(1 0 0 2.244 107.8 609)">D</text><text class="n" transform="matrix(1 0 0 .748 107.8 551.1)">T</text><text transform="matrix(1 0 0 .494 138.6 609)">F</text><text class="n" transform="matrix(1 0 0 .494 138.6 596.25)">Y</text><text transform="matrix(1 0 0 .494 138.6 583.5)">I</text><text transform="matrix(1 0 0 .494 138.6 570.75)">V</text><text transform="matrix(1 0 0 2.244 169.4 609)">G</text><text class="e" transform="matrix(1 0 0 .748 169.4 551.1)">D</text><text transform="matrix(1 0 0 2.244 200.2 609)">V</text><text transform="matrix(1 0 0 .748 200.2 551.1)">A</text><text transform="matrix(1 0 0 3.682 231 609)">G</text><text transform="matrix(1 0 0 2.244 261.8 609)">A</text><text transform="matrix(1 0 0 .748 261.8 551.1)">L</text><text transform="matrix(1 0 0 2.244 292.6 609)">G</text><text transform="matrix(1 0 0 .748 292.6 551.1)">A</text></g>
</g>
<g id="s2b6" transform="translate(2104,0)">
<g class="cl"><rect class="i" y="164"/><rect class="o" x="30.8" y="164"/><rect class="i" x="61.6" y="164"/><rect class="b" x="92.4" y="164"/><rect class="i" x="123.2" y="164"/><rect class="b" x="184.8" y="164"/><rect class="b" x="246.4" y="164"/><rect class="b" x="277.2" y="164"/>
<rect class="i" y="210"/><rect class="o" x="30.8" y="210"/><rect class="i" x="61.6" y="210"/><rect class="o" x="92.4" y="210"/><rect class="i" x="123.2" y="210"/><rect class="b" x="246.4" y="210"/><rect class="b" x="277.2" y="210"/>
<rect class="i" y="256"/><rect class="o" x="30.8" y="256"/><rect class="i" x="61.6" y="256"/><rect class="b" x="92.4" y="256"/><rect class="i" x="123.2" y="256"/><rect class="b" x="246.4" y="256"/><rect class="b" x="277.2" y="256"/>
<rect class="i" y="302"/><rect class="g" x="30.8" y="302"/><rect class="i" x="61.6" y="302"/><rect class="b" x="92.4" y="302"/><rect class="g" x="123.2" y="302"/><rect class="b" x="184.8" y="302"/></g>
<text class="rs" x="15.4 46.2 77 107.8 138.6 169.4 200.2 231 261.8 292.6" y="198">YSYRFGRGRR</text><text class="rs" x="15.4 46.2 77 107.8 138.6 169.4 200.2 231 261.8 292.6" y="244">YSYTFGGGRR</text><text class="rs" x="15.4 46.2 77 107.8 138.6 169.4 200.2 231 261.8 292.6" y="290">YTYRFGGGRR</text><text class="rs" x="15.4 46.2 77 107.8 138.6 169.4 200.2 231 261.8 292.6" y="336">YVFRLGRG--</text><text class="rs" x="15.4 46.2 77 107.8 138.6 169.4 200.2 231 261.8 292.6" y="396">YSYRFGXGRR</text>
<g class="bar"><rect class="q4" x="2.4"/><rect class="q2" x="33.2"/><rect class="q3" x="64"/><rect class="q3" x="94.8"/><rect class="q3" x="125.6"/><rect class="q4" x="156.4"/><rect class="q2" x="187.2"/><rect class="q4" x="218"/><rect class="q3" x="248.8"/><rect class="q3" x="279.6"/></g>
<g class="lg"><text class="n" transform="matrix(1 0 0 3.682 15.4 609)">Y</text><text class="n" transform="matrix(1 0 0 1.202 46.2 609)">S</text><text transform="matrix(1 0 0 .601 46.2 578)">V</text><text class="n" transform="matrix(1 0 0 .601 46.2 562.5)">T</text><text class="n" transform="matrix(1 0 0 2.244 77 609)">Y</text><text transform="matrix(1 0 0 .748 77 551.1)">F</text><text class="k" transform="matrix(1 0 0 2.244 107.8 609)">R</text><text class="n" transform="matrix(1 0 0 .748 107.8 551.1)">T</text><text transform="matrix(1 0 0 2.244 138.6 609)">F</text><text transform="matrix(1 0 0 .748 138.6 551.1)">L</text><text transform="matrix(1 0 0 3.682 169.4 609)">G</text><text transform="matrix(1 0 0 1.415 200.2 609)">G</text><text class="k" transform="matrix(1 0 0 1.415 200.2 572.5)">R</text><text transform="matrix(1 0 0 3.682 231 609)">G</text><text class="k" transform="matrix(1 0 0 2.762 261.8 609)">R</text><text class="k" transform="matrix(1 0 0 2.762 292.6 609)">R</text></g>
</g>
<g id="s2b7" transform="translate(2447,0)">
<text class="rs" x="15.4" y="198">-</text><text class="rs" x="15.4" y="244">G</text><text class="rs" x="15.4" y="290">G</text><text class="rs" x="15.4" y="336">-</text><text class="rs" x="15.4" y="396">G</text>
<g class="bar"><rect class="q2" x="2.4"/></g>
<g class="lg"><text transform="matrix(1 0 0 1.841 15.4 609)">G</text></g>
<text class="en" x="53" y="198">121</text><text class="en" x="53" y="244">125</text><text class="en" x="53" y="290">120</text><text class="en" x="53" y="336">108</text>
</g>
<path d="M389 411H2478M389 507H2478" stroke="#555" stroke-width="3"/>
</g>
<text id="label-a" class="pl" x="1324" y="1262">(a)</text>
</g>
<g id="panel-b">
<g id="connectors">
<path class="tr" d="M420 3220H445M445 3007V3434M445 3007H555.6M445 3434H553M555.6 2798.6V3220M555.6 2798.6H567M555.6 3220H623.6M567 2511V3088M567 2511H870M567 3088H584.7M584.7 3018V3159.6M584.7 3018H594.6M584.7 3159.6H711M594.6 2940V3099M594.6 2940H850M594.6 3099H628M628 3078.8V3119.2M628 3078.8H661M628 3119.2H698M623.6 3199.9V3240.3M623.6 3199.9H636M623.6 3240.3H740M850 2876V3007M850 2876H885.7M850 3007H888M885.7 2836.7V2917.4M885.7 2836.7H918M885.7 2917.4H901M918 2726V2877M918 2726H942M918 2796.3H932M918 2836.7H939M918 2877H924M942 2695.4V2756M942 2695.4H947M942 2756H957M947 2675.2V2715.6M947 2675.2H962M947 2715.6H967M888 2978V3038.5M888 2978H1030M888 3038.5H1061M1030 2957.8V2998.1M1030 2957.8H1050M1030 2998.1H1090M870 2410V2614.7M870 2410H1064M870 2614.7H929M929 2594.5V2634.9M929 2594.5H935M929 2634.9H939M1064 2066V2554.2M1064 2066H1148.6M1064 2452H1077M1064 2554.2H1068M1077 2392V2513.8M1077 2392H1121M1077 2473.4H1083M1077 2513.8H1083M1121 2351V2433.1M1121 2351H1148.6M1121 2433.1H1156M1148.6 2310V2392.7M1148.6 2310H1220M1148.6 2392.7H1195M1220 2170.7V2352.4M1220 2170.7H1241M1220 2231.3H1226M1220 2271.6H1226M1220 2312H1226M1220 2352.4H1226M1241 2150.6V2190.9M1241 2150.6H1246M1241 2190.9H1246M1148.6 2066V2110.2M1148.6 2066H1236M1148.6 2110.2H1153M1236 1803V2069.8M1236 1803H1261.5M1236 1928.6H1263M1236 1989.1H1241M1236 2029.5H1241M1236 2069.8H1241M1263 1908.4V1948.8M1263 1908.4H1281M1263 1948.8H1319M1261.5 1738.5V1868M1261.5 1738.5H1285M1261.5 1868H1306M1285 1650V1827.7M1285 1650H1299.7M1285 1827.7H1335M1299.7 1544.5V1757.3M1299.7 1544.5H1324M1299.7 1757.3H1336.7M1324 1459V1631M1324 1459H1347.6M1324 1631H1382.6M1347.6 1413.9V1504.8M1347.6 1413.9H1395M1347.6 1504.8H1434M1395 1363.5V1464.4M1395 1363.5H1443M1395 1464.4H1440M1443 1323.2V1403.9M1443 1323.2H1478M1443 1403.9H1465.6M1478 1303V1343.4M1478 1303H1507M1478 1343.4H1486M1465.6 1383.7V1424.1M1465.6 1383.7H1494M1465.6 1424.1H1497M1382.6 1595.7V1666.2M1382.6 1595.7H1405M1382.6 1666.2H1496M1405 1565.4V1625.9M1405 1565.4H1581.6M1405 1625.9H1460M1581.6 1545.2V1585.5M1581.6 1545.2H1708M1581.6 1585.5H1666M1336.7 1726.8V1787.3M1336.7 1726.8H1363.5M1336.7 1787.3H1379.5M1363.5 1706.6V1747M1363.5 1706.6H1370M1363.5 1747H1370M553 3390V3482.4M553 3390H603M553 3482.4H586M603 3340.7V3442.1M603 3340.7H658M603 3442.1H625M658 3300.8V3381.5M658 3300.8H686M658 3381.5H682M686 3280.6V3321M686 3280.6H691M686 3321H693M682 3361.4V3401.7M682 3361.4H687M682 3401.7H690"/>
<g class="dot"><circle cx="1478" cy="1323.2" r="12"/><circle cx="1443" cy="1363.5" r="12"/><circle cx="1395" cy="1413.9" r="12"/><circle cx="1581.6" cy="1565.4" r="12"/><circle cx="1382.6" cy="1631" r="12"/><circle cx="1363.5" cy="1726.8" r="12"/><circle cx="1336.7" cy="1757.3" r="12"/><circle cx="1236" cy="2029.5" r="12"/><circle cx="1148.6" cy="2066" r="12"/><circle cx="1241" cy="2170.7" r="12"/><circle cx="1220" cy="2312" r="12"/><circle cx="1121" cy="2392" r="12"/><circle cx="1077" cy="2432" r="12"/><circle cx="870" cy="2512" r="12"/><circle cx="942" cy="2725.7" r="12"/><circle cx="918" cy="2836.7" r="12"/><circle cx="850" cy="2941.5" r="12"/><circle cx="1030" cy="2978" r="12"/><circle cx="628" cy="3099" r="12"/><circle cx="623.6" cy="3220" r="12"/><circle cx="555.6" cy="3009" r="12"/><circle cx="553" cy="3436" r="12"/><circle cx="658" cy="3341" r="12"/><circle cx="686" cy="3300.8" r="12"/><circle cx="682" cy="3381.5" r="12"/></g>
</g>
<g id="leaves" class="lf">
<g id="leaf-B4KMQ8"><text transform="matrix(1.14 0 0 1 1541 1316)">B4KMQ8<tspan class="o">-Dmoj</tspan></text></g>
<g id="leaf-A0A484BGG0"><text transform="matrix(1.14 0 0 1 1518 1356.4)">A0A484BGG0<tspan class="o">-Dnav</tspan></text></g>
<g id="leaf-B4LN24"><text transform="matrix(1.14 0 0 1 1527 1396.7)">B4LN24<tspan class="o">-Dvir</tspan></text></g>
<g id="leaf-B4J4K4"><text transform="matrix(1.14 0 0 1 1536 1437.1)">B4J4K4<tspan class="o">-Dgri</tspan></text></g>
<g id="leaf-A0A6P8XAE6"><text transform="matrix(1.14 0 0 1 1473 1477.4)">A0A6P8XAE6<tspan class="o">-Dalb</tspan></text></g>
<g id="leaf-A0A6J2UFN5"><text transform="matrix(1.14 0 0 1 1469 1517.8)">A0A6J2UFN5<tspan class="o">-Dleb</tspan></text></g>
<g id="leaf-A0A484BGG6"><text transform="matrix(1.14 0 0 1 1745 1558.2)">A0A484BGG6<tspan class="o">-Dnav</tspan></text></g>
<g id="leaf-A0A6P8WX35"><text transform="matrix(1.14 0 0 1 1701 1598.5)">A0A6P8WX35<tspan class="o">-Dalb</tspan></text></g>
<g id="leaf-A0A6I9VF25"><text transform="matrix(1.14 0 0 1 1496 1638.9)">A0A6I9VF25<tspan class="o">-Bdor</tspan></text></g>
<g id="leaf-A0A811VI43"><text transform="matrix(1.14 0 0 1 1533 1679.2)">A0A811VI43<tspan class="o">-Ccap</tspan></text></g>
<g id="leaf-A0A6I8UTU7"><text transform="matrix(1.14 0 0 1 1403 1719.6)">A0A6I8UTU7<tspan class="o">-Dpse</tspan></text></g>
<g id="leaf-B4GB65"><text transform="matrix(1.14 0 0 1 1400 1760)">B4GB65<tspan class="o">-Dper</tspan></text></g>
<g id="leaf-A0A3B0JLZ9"><text transform="matrix(1.14 0 0 1 1414 1800.3)">A0A3B0JLZ9<tspan class="o">-Dgua</tspan></text></g>
<g id="leaf-B4MK31"><text transform="matrix(1.14 0 0 1 1370 1840.7)">B4MK31<tspan class="o">-Dwil</tspan></text></g>
<g id="leaf-B3MHZ8"><text transform="matrix(1.14 0 0 1 1341 1881)">B3MHZ8<tspan class="o">-Dana</tspan></text></g>
<g id="leaf-A0A6P4ED38"><text transform="matrix(1.14 0 0 1 1316 1921.4)">A0A6P4ED38<tspan class="o">-Drho</tspan></text></g>
<g id="leaf-A0A6P4IVW7"><text transform="matrix(1.14 0 0 1 1354 1961.8)">A0A6P4IVW7<tspan class="o">-Dkik</tspan></text></g>
<g id="leaf-A1ZBF6"><text transform="matrix(1.14 0 0 1 1274 2002.1)">A1ZBF6<tspan class="o">-Dmel</tspan></text></g>
<g id="leaf-B4QDJ9"><text transform="matrix(1.14 0 0 1 1273 2042.5)">B4QDJ9<tspan class="o">-Dsim</tspan></text></g>
<g id="leaf-B4HP36"><text transform="matrix(1.14 0 0 1 1271 2082.8)">B4HP36<tspan class="o">-Dsec</tspan></text></g>
<g id="leaf-B4QDJ8"><text transform="matrix(1.14 0 0 1 1190 2123.2)">B4QDJ8<tspan class="o">-Dsim</tspan></text></g>
<g id="leaf-A0A3B0J369"><text transform="matrix(1.14 0 0 1 1279 2163.6)">A0A3B0J369<tspan class="o">-Dgua</tspan></text></g>
<g id="leaf-A0A3B0J374"><text transform="matrix(1.14 0 0 1 1279 2203.9)">A0A3B0J374<tspan class="o">-Dgua</tspan></text></g>
<g id="leaf-A0A6I8UU54"><text transform="matrix(1.14 0 0 1 1268 2244.3)">A0A6I8UU54<tspan class="o">-Dpse</tspan></text></g>
<g id="leaf-B4GB64"><text transform="matrix(1.14 0 0 1 1265 2284.6)">B4GB64<tspan class="o">-Dper</tspan></text></g>
<g id="leaf-B4GB62"><text transform="matrix(1.14 0 0 1 1265 2325)">B4GB62<tspan class="o">-Dper</tspan></text></g>
<g id="leaf-A0A6I8V446"><text transform="matrix(1.14 0 0 1 1258 2365.4)">A0A6I8V446<tspan class="o">-Dpse</tspan></text></g>
<g id="leaf-B3MHZ9"><text transform="matrix(1.14 0 0 1 1236 2405.7)">B3MHZ9<tspan class="o">-Dana</tspan></text></g>
<g id="leaf-A0A6P4E8W7"><text transform="matrix(1.14 0 0 1 1194 2446.1)">A0A6P4E8W7<tspan class="o">-Drho</tspan></text></g>
<g id="leaf-B4HP35"><text transform="matrix(1.14 0 0 1 1118 2486.4)">B4HP35<tspan class="o">-Dsec</tspan></text></g>
<g id="leaf-P24492"><text transform="matrix(1.14 0 0 1 1118 2526.8)">P24492<tspan class="o">-Dmel</tspan></text></g>
<g id="leaf-B4QDJ7"><text transform="matrix(1.14 0 0 1 1102 2567.2)">B4QDJ7<tspan class="o">-Dsim</tspan></text></g>
<g id="leaf-P18684"><text transform="matrix(1.14 0 0 1 965 2607.5)">P18684<tspan class="o">-Pter</tspan></text></g>
<g id="leaf-P10836"><text transform="matrix(1.14 0 0 1 977 2647.9)">P10836<tspan class="o">-Pter</tspan></text></g>
<g id="leaf-A0A5N5SMZ4"><text transform="matrix(1.14 0 0 1 1000 2688.2)">A0A5N5SMZ4 <tspan class="gn">-Anas</tspan></text></g>
<g id="leaf-A0A5N5T953"><text transform="matrix(1.14 0 0 1 1004 2728.6)">A0A5N5T953 <tspan class="gn">-Anas</tspan></text></g>
<g id="leaf-A0A5N5SMP0"><text transform="matrix(1.14 0 0 1 993 2769)">A0A5N5SMP0 <tspan class="gn">-Anas</tspan></text></g>
<g id="leaf-A0A5N5SKI7"><text transform="matrix(1.14 0 0 1 971 2809.3)">A0A5N5SKI7<tspan class="gn">-Anas</tspan></text></g>
<g id="leaf-A0A5N5SL64"><text transform="matrix(1.14 0 0 1 976 2849.7)">A0A5N5SL64<tspan class="gn">-Anas</tspan></text></g>
<g id="leaf-A0A444TPL7"><text transform="matrix(1.14 0 0 1 962 2890)">A0A444TPL7<tspan class="gn">-Avul</tspan></text></g>
<g id="leaf-A0A444T736"><text transform="matrix(1.14 0 0 1 939 2930.4)">A0A444T736<tspan class="gn">-Avul</tspan></text></g>
<g id="leaf-A0A444TPI7"><text transform="matrix(1.14 0 0 1 1088 2970.8)">A0A444TPI7<tspan class="gn">-Avul</tspan></text></g>
<g id="leaf-A0A5N5SMM7"><text transform="matrix(1.14 0 0 1 1125 3011.1)">A0A5N5SMM7<tspan class="gn">-Anas</tspan></text></g>
<g id="leaf-A0A444T8M9"><text transform="matrix(1.14 0 0 1 1096 3051.5)">A0A444T8M9<tspan class="gn">-Avul</tspan></text></g>
<g id="leaf-ScurDiptericin1"><text class="rd" transform="matrix(1.14 0 0 1 698 3091.8)">ScurDiptericin1_full</text></g>
<g id="leaf-OcinDiptericin1"><text class="rd" transform="matrix(1.14 0 0 1 736 3132.2)">OcinDiptericin1_full</text></g>
<g id="leaf-A0A226E0F8"><text transform="matrix(1.14 0 0 1 746 3172.6)">A0A226E0F8 <tspan class="rd">-Fcan</tspan></text></g>
<g id="leaf-SvirDiptericin1"><text class="rd" transform="matrix(1.14 0 0 1 665 3212.9)">SvirDiptericin1_full</text></g>
<g id="leaf-SvirDiptericin2"><text class="rd" transform="matrix(1.14 0 0 1 777 3253.3)">SvirDiptericin2_full</text></g>
<g id="leaf-A0A4Y2EKY6"><text transform="matrix(1.14 0 0 1 726 3293.6)">A0A4Y2EKY6<tspan class="pu">-Aven</tspan></text></g>
<g id="leaf-A0A4Y2PDN5"><text transform="matrix(1.14 0 0 1 734 3334)">A0A4Y2PDN5<tspan class="pu">-Aven</tspan></text></g>
<g id="leaf-A0A4Y2EMV5"><text transform="matrix(1.14 0 0 1 719 3374.4)">A0A4Y2EMV5<tspan class="pu">-Aven</tspan></text></g>
<g id="leaf-A0A4Y2PGB3"><text transform="matrix(1.14 0 0 1 727 3414.7)">A0A4Y2PGB3<tspan class="pu">-Aven</tspan></text></g>
<g id="leaf-A0A4Y2HCH0"><text transform="matrix(1.14 0 0 1 661 3455.1)">A0A4Y2HCH0<tspan class="pu">-Aven</tspan></text></g>
<g id="leaf-A0A4Y2EL07"><text transform="matrix(1.14 0 0 1 622 3495.4)">A0A4Y2EL07<tspan class="pu">-Aven</tspan></text></g>
</g>
<g id="clade-diptera"><rect x="2152" y="1277" width="44" height="1363" fill="#ffc000"/><text x="2229" y="1972" font-size="46" fill="#f5b92e">Diptera</text></g>
<g id="clade-myriapoda"><rect x="1554" y="2662" width="40" height="407" fill="#00b050"/><text x="1617" y="2875" font-size="46" fill="#1fa84f">Myriapoda</text></g>
<g id="clade-chelicerata"><rect x="1148" y="3267" width="38" height="239" fill="#7030a0"/><text x="1212" y="3393" font-size="46" fill="#7b3fa8">Chelicerata</text></g>
<g id="scale-bar"><path d="M481 3577H647" stroke="#555" stroke-width="5"/><text x="563" y="3634" font-size="32" fill="#444" text-anchor="middle">0.7</text></g>
<text id="label-b" class="pl" x="1324" y="3626">(b)</text>
</g>
</svg>
